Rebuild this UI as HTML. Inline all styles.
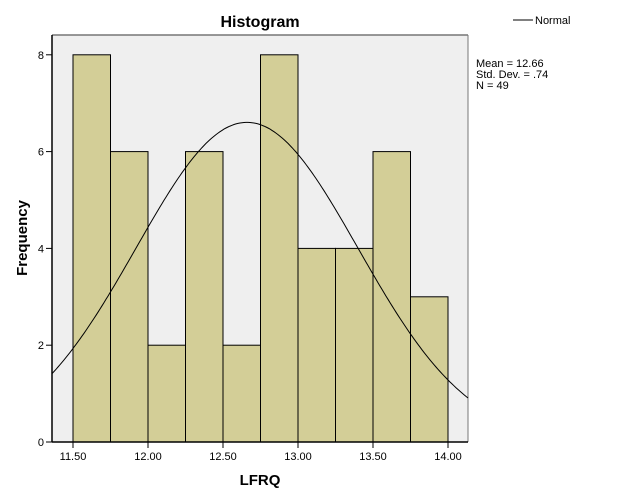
<!DOCTYPE html>
<html><head><style>body{margin:0;background:#fff}svg{display:block}</style></head>
<body>
<svg id="s" width="626" height="501" xmlns="http://www.w3.org/2000/svg" font-family="Liberation Sans, sans-serif">
<rect x="0" y="0" width="626" height="501" fill="#fff"/>
<rect x="52" y="35" width="416" height="407" fill="#efefef"/>
<line x1="52" y1="35" x2="468" y2="35" stroke="#777" stroke-width="1.5"/>
<line x1="468" y1="35" x2="468" y2="442" stroke="#777" stroke-width="1"/>
<g id="bars"></g>
<path id="curve" fill="none" stroke="#000" stroke-width="1"/>
<line x1="52" y1="35" x2="52" y2="442" stroke="#000" stroke-width="1.5"/>
<line x1="52" y1="442" x2="468" y2="442" stroke="#000" stroke-width="1.5"/>
<g id="ticks" font-size="11" fill="#000"></g>
<text x="260" y="27" font-size="16" font-weight="bold" text-anchor="middle">Histogram</text>
<text x="260" y="485" font-size="15" font-weight="bold" text-anchor="middle">LFRQ</text>
<text transform="translate(27,238) rotate(-90)" font-size="15" font-weight="bold" text-anchor="middle">Frequency</text>
<line x1="513" y1="20" x2="533" y2="20" stroke="#000" stroke-width="1"/>
<text x="535" y="24" font-size="11">Normal</text>
<text x="476" y="67" font-size="11">Mean = 12.66</text>
<text x="476" y="78" font-size="11">Std. Dev. = .74</text>
<text x="476" y="89" font-size="11">N = 49</text>
</svg>
<script>
var ns="http://www.w3.org/2000/svg";
function X(v){return 73+(v-11.5)*150}
function Y(v){return 442-v*48.4}
var counts=[8,6,2,6,2,8,4,4,6,3];
var b=document.getElementById("bars");
counts.forEach(function(c,i){var r=document.createElementNS(ns,"rect");
var x0=X(11.5+i*0.25);r.setAttribute("x",x0);r.setAttribute("y",Y(c));
r.setAttribute("width",37.5);r.setAttribute("height",442-Y(c));
r.setAttribute("fill","#d3ce97");r.setAttribute("stroke","#000");r.setAttribute("stroke-width","1");b.appendChild(r);});
var d="";for(var px=52;px<=468;px+=2){var v=11.5+(px-73)/150;var f=49*0.25/(0.74*Math.sqrt(2*Math.PI))*Math.exp(-0.5*Math.pow((v-12.66)/0.74,2));d+=(px==52?"M":"L")+px+","+Y(f).toFixed(1);}
document.getElementById("curve").setAttribute("d",d);
var t=document.getElementById("ticks");
[0,2,4,6,8].forEach(function(v){var y=Y(v);var l=document.createElementNS(ns,"line");l.setAttribute("x1",46);l.setAttribute("x2",52);l.setAttribute("y1",y);l.setAttribute("y2",y);l.setAttribute("stroke","#000");t.appendChild(l);
var tx=document.createElementNS(ns,"text");tx.setAttribute("x",44);tx.setAttribute("y",y+4);tx.setAttribute("text-anchor","end");tx.textContent=v;t.appendChild(tx);});
["11.50","12.00","12.50","13.00","13.50","14.00"].forEach(function(s){var x=X(parseFloat(s));var l=document.createElementNS(ns,"line");l.setAttribute("x1",x);l.setAttribute("x2",x);l.setAttribute("y1",442);l.setAttribute("y2",448);l.setAttribute("stroke","#000");t.appendChild(l);
var tx=document.createElementNS(ns,"text");tx.setAttribute("x",x);tx.setAttribute("y",460);tx.setAttribute("text-anchor","middle");tx.textContent=s;t.appendChild(tx);});
</script>
</body></html>
